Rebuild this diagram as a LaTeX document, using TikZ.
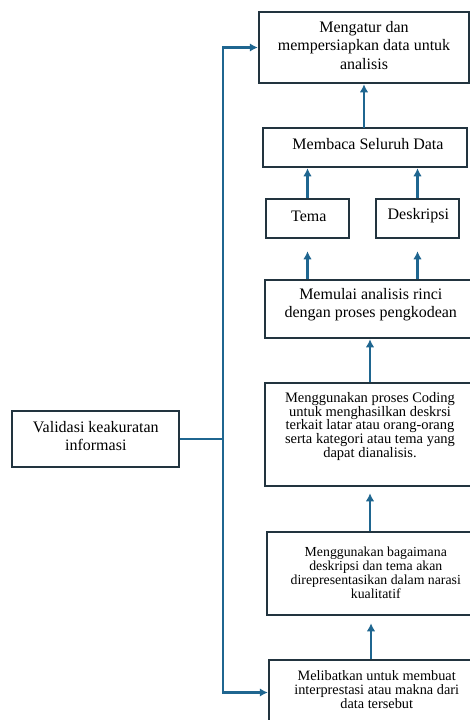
\documentclass[tikz,border=0pt]{standalone}
\usepackage{fontspec}
\setmainfont{Liberation Serif}
\usetikzlibrary{arrows.meta}
\definecolor{edge}{HTML}{22343F}
\definecolor{link}{HTML}{1F6690}
\begin{document}
\begin{tikzpicture}[x=1pt,y=-1pt,
  box/.style={draw=edge, line width=2.5pt, fill=white, inner sep=0pt},
  txt/.style={align=center, inner sep=0pt, text=black},
  big/.style={font=\fontsize{16}{18.3}\selectfont},
  arr/.style={draw=link, line width=2.8pt, -{Latex[length=8pt,width=8.5pt]}},
  ln/.style={draw=link, line width=2.8pt}]
\useasboundingbox (0,0) rectangle (470,720);
\clip (0,0) rectangle (470,720);
\fill[white] (0,0) rectangle (470,720);
% boxes
\node[box, minimum width=210pt, minimum height=71pt] (b1) at (364,47.5) {};
\node[box, minimum width=204pt, minimum height=39pt] (b2) at (365,147.5) {};
\node[box, minimum width=83pt, minimum height=39pt] (tema) at (307.5,218.5) {};
\node[box, minimum width=83pt, minimum height=39pt] (desk) at (417.5,218.5) {};
\node[box, minimum width=210pt, minimum height=58pt] (b3) at (370,309) {};
\node[box, minimum width=210pt, minimum height=103pt] (b4) at (370,434.5) {};
\node[box, minimum width=208pt, minimum height=83pt] (b5) at (371,573.5) {};
\node[box, minimum width=206pt, minimum height=65pt] (b6) at (372,692.5) {};
\node[box, minimum width=167pt, minimum height=56pt] (val) at (95.5,439) {};
% texts
\node[txt, big] (t1) at (364,45.5) {Mengatur dan\\mempersiapkan data untuk\\analisis};
\node[txt, big] (t2) at (368,144) {Membaca Seluruh Data};
\node[txt, big] (t3) at (308.8,216) {Tema};
\node[txt, big] (t4) at (418.3,216) {Deskripsi};
\node[txt, big] (t5) at (370.8,304.5) {Memulai analisis rinci\\dengan proses pengkodean};
\node[txt, font=\fontsize{14.5}{13.8}\selectfont] (t6) at (370,426.5) {Menggunakan proses Coding\\untuk menghasilkan deskrsi\\terkait latar atau orang-orang\\serta kategori atau tema yang\\dapat dianalisis.};
\node[txt, font=\fontsize{13.8}{14.1}\selectfont] (t7) at (375.8,573) {Menggunakan bagaimana\\deskripsi dan tema akan\\direpresentasikan dalam narasi\\kualitatif};
\node[txt, font=\fontsize{14.3}{14.4}\selectfont] (t8) at (376.7,689.5) {Melibatkan untuk membuat\\interprestasi atau makna dari\\data tersebut};
\node[txt, big] (t9) at (95.8,436) {Validasi keakuratan\\informasi};
% connectors
\coordinate (c1) at (364,128);
\draw[arr] (c1) -- (c1 |- b1.south);
\draw[arr] (tema.north) -- (tema.north |- b2.south);
\draw[arr] (desk.north) -- (desk.north |- b2.south);
\draw[arr] (b3.north -| tema.south) -- ([yshift=-12pt]tema.south);
\draw[arr] (b3.north -| desk.south) -- ([yshift=-12pt]desk.south);
\draw[arr] (b4.north) -- (b3.south);
\draw[arr] (b4.south |- b5.north) -- ([yshift=-6pt]b4.south);
\draw[arr] (b5.south |- b6.north) -- ([yshift=-7pt]b5.south);
\coordinate (jt) at (223,47.5);
\coordinate (jb) at (223,692.5);
\draw[ln, {Latex[length=8pt,width=8.5pt]}-{Latex[length=8pt,width=8.5pt]}] (b1.west) -- (jt) -- (jb) -- (b6.west);
\draw[ln] (val.east) -- (val.east -| jt);
\end{tikzpicture}
\end{document}
